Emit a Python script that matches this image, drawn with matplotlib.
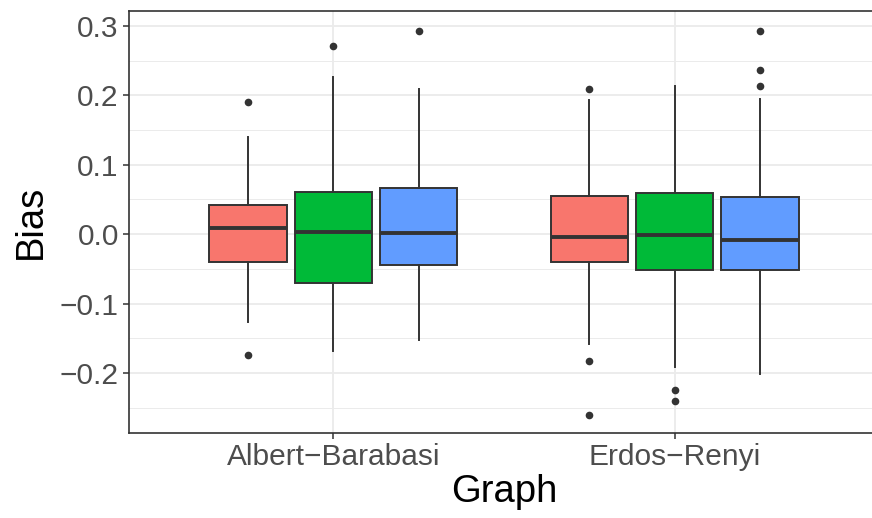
#!/usr/bin/env python3
"""Boxplots of bias per graph type, three methods per group (ggplot theme_bw look)."""

import matplotlib

matplotlib.use("Agg")
import matplotlib.pyplot as plt
from matplotlib.ticker import MultipleLocator

plt.rcParams["font.family"] = ["Liberation Sans", "DejaVu Sans"]

GRAPHS = ["Albert\u2212Barabasi", "Erdos\u2212Renyi"]
COLORS = ["#F8766D", "#00BA38", "#619CFF"]

# per graph, per method: (whislo, q1, med, q3, whishi)
AB_STATS = [
    (-0.127, -0.040, 0.009, 0.042, 0.140),
    (-0.169, -0.070, 0.003, 0.061, 0.226),
    (-0.152, -0.044, 0.002, 0.067, 0.209),
]
ER_STATS = [
    (-0.158, -0.040, -0.004, 0.055, 0.193),
    (-0.191, -0.052, -0.001, 0.060, 0.213),
    (-0.201, -0.051, -0.008, 0.053, 0.195),
]
AB_OUTLIERS = [
    [0.191, -0.174],
    [0.271],
    [0.293],
]
ER_OUTLIERS = [
    [0.209, -0.183, -0.260],
    [-0.224, -0.240],
    [0.293, 0.237, 0.214],
]
Y_TICKS = [-0.2, -0.1, 0.0, 0.1, 0.2, 0.3]

STATS = [AB_STATS, ER_STATS]
OUTLIERS = [AB_OUTLIERS, ER_OUTLIERS]


def main() -> None:
    fig = plt.figure(figsize=(8.72, 5.18), dpi=100)
    # panel runs past the right edge, as in the cropped original
    ax = fig.add_axes([128.5 / 872, 85 / 518, 751 / 872, 422 / 518])

    slot = 0.25
    box_w = 0.226
    for g, (stats, outs) in enumerate(zip(STATS, OUTLIERS)):
        for m, (s, o) in enumerate(zip(stats, outs)):
            pos = g + 1 + (m - 1) * slot
            lo, q1, med, q3, hi = s
            bp = ax.bxp(
                [{"whislo": lo, "q1": q1, "med": med, "q3": q3, "whishi": hi, "fliers": o}],
                positions=[pos],
                widths=box_w,
                patch_artist=True,
                showcaps=False,
                manage_ticks=False,
                boxprops={"facecolor": COLORS[m], "edgecolor": "#333333", "linewidth": 1.4},
                whiskerprops={"color": "#333333", "linewidth": 1.4},
                medianprops={"color": "#333333", "linewidth": 2.8, "solid_capstyle": "butt"},
                flierprops={
                    "marker": "o",
                    "markersize": 5.5,
                    "markerfacecolor": "#333333",
                    "markeredgecolor": "#333333",
                    "markeredgewidth": 0,
                },
            )
            for art in bp["boxes"] + bp["whiskers"] + bp["medians"] + bp["fliers"]:
                art.set_zorder(3)

    ax.set_xlim(0.4, 2.6)
    ax.set_ylim(-0.2865, 0.3215)
    ax.set_xticks([1, 2])
    ax.set_xticklabels(GRAPHS)
    ax.yaxis.set_minor_locator(MultipleLocator(0.05))
    ax.set_yticks(Y_TICKS)
    ax.set_yticklabels([f"{t:.1f}".replace("-", "\u2212") for t in Y_TICKS])

    ax.grid(True, which="major", color="#EBEBEB", linewidth=1.3, zorder=0)
    ax.grid(True, which="minor", axis="y", color="#EBEBEB", linewidth=0.7, zorder=0)
    ax.set_axisbelow(True)

    for sp in ax.spines.values():
        sp.set_color("#333333")
        sp.set_linewidth(1.2)

    ax.tick_params(axis="both", which="major", colors="#333333", length=4, width=1.1,
                   labelsize=21.5, labelcolor="#4D4D4D", pad=3)
    ax.tick_params(axis="y", which="minor", length=0)

    ax.set_xlabel("Graph", fontsize=27.5, color="black", labelpad=2)
    ax.set_ylabel("Bias", fontsize=27.5, color="black", labelpad=8)

    fig.savefig("out.png", dpi=100)
    plt.close(fig)


if __name__ == "__main__":
    main()
